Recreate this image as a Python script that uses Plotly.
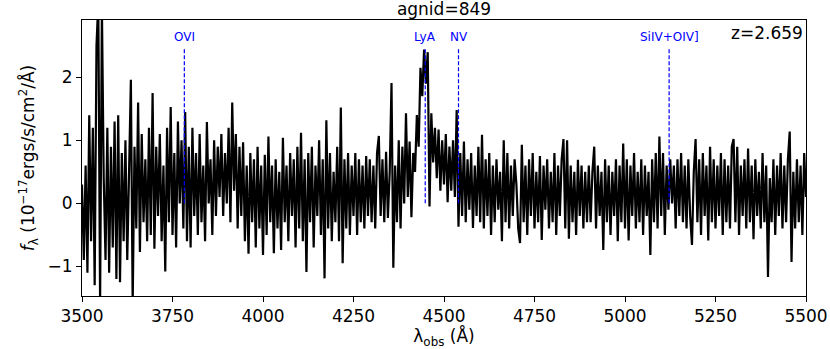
import numpy as np
import plotly.graph_objects as go

# redshift and emission lines (rest-frame wavelengths in Angstrom)
z = 2.659
line_names = ["OVI", "LyA", "NV", "SiIV+OIV]"]
line_rest = [1033.8, 1215.67, 1240.8, 1399.8]

# observed wavelength grid, 5 A steps
wave = np.arange(3500, 5501, 5)

# flux (1e-17 ergs/s/cm^2/A), one row per 100 A
flux_rows = [
    [0.3, -0.9, 0.6, -1.1, 1.4, -0.6, 1.2, -1.3, 2.5, 3.2, -1.6, 3.1, 0.4, -0.9, 1.2, -1.1, 0.9, -0.7, 1.3, -1.2],
    [1.4, -1.25, 0.8, -0.6, 1.0, -0.9, 0.5, 1.96, -1.6, 0.9, -0.4, 1.6, -0.77, 1.1, -0.3, 0.7, -0.6, 1.2, -0.5, 1.75],
    [-0.72, 0.9, -0.2, 1.1, -0.6, 0.6, -1.08, 1.2, -0.3, 1.53, -0.5, 0.8, -0.7, 1.3, 0.0, 1.0, -0.4, 1.45, -0.6, 0.9],
    [-0.7, 1.2, -0.2, 0.8, -0.5, 1.1, -0.3, 0.6, -0.6, 1.29, 0.0, 0.7, -0.5, 1.0, -0.2, 0.9, 0.1, 1.1, -0.2, 0.8],
    [0.0, 1.2, -0.3, 1.6, 0.2, 1.1, -0.4, 0.9, -0.2, 0.97, -0.6, 0.6, -0.8, 0.8, -0.3, 0.7, -0.7, 0.9, -0.4, 0.6],
    [-0.82, 0.77, -0.5, 1.06, -0.3, 0.6, -0.79, 0.7, -0.4, 0.5, -0.74, 1.04, -0.3, 0.6, -0.6, 0.8, -0.2, 0.7, -0.7, 0.9],
    [-0.4, 1.12, -0.6, 0.7, -1.09, 0.8, -0.3, 0.9, -0.7, 0.6, -0.2, 1.0, -0.5, 0.7, -1.19, 1.32, -0.4, 0.8, -0.6, 0.5],
    [-0.3, 0.9, -0.6, 1.52, -0.95, 0.7, -0.4, 0.8, -0.5, 0.6, -0.2, 0.8, -0.5, 0.7, -0.3, 0.6, -0.4, 0.75, -0.2, 0.7],
    [-0.3, 0.6, -0.4, 0.8, 1.07, -0.2, 0.7, -0.3, 0.82, -0.23, 0.5, 1.91, -1.02, 0.6, -0.3, 1.0, -0.4, 0.9, 0.0, 1.43],
    [0.1, 0.98, -0.22, 0.8, 0.5, 1.4, 0.9, 2.15, 1.7, 2.44, 1.9, 2.4, -0.05, 1.43, 0.65, 1.2, 0.4, 1.17, 0.2, 1.0],
    [0.3, 1.1, 0.02, 0.9, 0.2, 1.0, 0.1, 1.48, -0.37, 0.8, -0.2, 0.98, -0.3, 0.7, -0.1, 0.8, -0.39, 0.6, -0.2, 0.9],
    [-0.3, 1.09, -0.4, 0.7, -0.2, 0.8, -0.5, 0.6, -0.3, 0.7, -0.1, 0.5, -0.6, 1.0, -0.3, 0.8, -0.4, 0.6, -0.2, 0.7],
    [0.3, -0.4, -0.63, 0.93, -0.3, 0.6, -0.5, 0.7, -0.2, 0.8, -0.4, 0.5, -0.3, 0.75, -0.58, 0.6, -0.1, 0.7, -0.4, 0.5],
    [-0.3, 0.8, -0.5, 0.6, -0.2, 0.7, 1.02, -0.4, 1.0, -0.56, 0.6, -0.3, 0.5, -0.5, 0.69, -0.2, 0.6, -0.4, 0.5, -0.3],
    [0.6, -0.3, 0.5, 0.9, -0.4, 0.6, -0.2, 0.5, -0.74, 0.7, -0.3, 0.6, -0.5, 0.5, -0.2, 0.7, -0.6, 0.6, -0.3, 0.95],
    [-0.4, 0.7, -0.59, 0.6, -0.2, 0.8, -0.4, 0.5, -0.3, 0.7, -0.5, 0.6, -0.2, 0.5, -0.82, 0.7, -0.3, 0.8, -0.4, 1.06],
    [-0.2, 0.8, -0.5, 0.6, -0.1, 0.7, 0.0, 0.6, -0.4, 0.7, -0.2, 0.8, -0.3, 0.6, -0.4, 0.7, -0.2, -0.66, 0.5, 1.02],
    [-0.3, 0.7, -0.5, 0.8, -0.2, 0.6, -0.59, 0.9, -0.3, 0.7, -0.4, 0.6, -0.2, 0.8, -0.5, 0.7, -0.3, 0.6, -0.4, 0.9],
    [1.02, -0.3, 0.9, -0.5, 0.6, -0.2, 0.7, -0.4, 0.87, -0.3, 0.6, -0.57, 0.7, -0.2, 0.5, -0.4, 0.8, -0.3, 0.6, -1.17],
    [0.4, -0.3, 0.7, -0.5, 0.6, -0.2, 0.8, -0.4, 0.6, -0.3, 0.7, 1.14, -0.93, 0.5, -0.4, 0.7, -0.3, 0.6, -0.5, 0.8],
    [0.1],
]
flux = [v for row in flux_rows for v in row]

y_range = [-1.47, 2.91]
line_top = 2.47   # top of the dashed markers
label_y = 2.64    # height of the line names

FONT = "DejaVu Sans"

fig = go.Figure()
fig.add_trace(go.Scatter(x=wave, y=flux, mode="lines",
                         line=dict(color="black", width=2.2),
                         showlegend=False, hoverinfo="skip"))

# dashed markers for the emission lines
for name, rest in zip(line_names, line_rest):
    obs = rest * (1 + z)
    fig.add_trace(go.Scatter(x=[obs, obs], y=[0, line_top], mode="lines",
                             line=dict(color="blue", width=1.2, dash="4px,2px"),
                             showlegend=False, hoverinfo="skip"))
    fig.add_annotation(x=obs, y=label_y, text=name, showarrow=False,
                       font=dict(family=FONT, size=12, color="blue"),
                       xanchor="center", yanchor="middle")

fig.add_annotation(x=1, y=1, xref="paper", yref="paper",
                   text="z=%.3f" % z, showarrow=False,
                   font=dict(family=FONT, size=17, color="black"),
                   xanchor="right", yanchor="top", xshift=-1, yshift=-1)

axis_style = dict(showline=True, linecolor="black", linewidth=1, mirror=True,
                  ticks="outside", ticklen=5, tickcolor="black",
                  showgrid=False, zeroline=False, automargin=False,
                  tickfont=dict(family=FONT, size=17, color="black"))

fig.update_xaxes(range=[3500, 5500], tickvals=list(range(3500, 5501, 250)),
                 title=dict(text="λ<sub>obs</sub> (Å)", standoff=2,
                            font=dict(family=FONT, size=17, color="black")),
                 **axis_style)
fig.update_yaxes(range=y_range, tickvals=[-1, 0, 1, 2],
                 title=dict(text="<i>f</i><sub>λ</sub> (10<sup>−17</sup>ergs/s/cm<sup>2</sup>/Å)",
                            standoff=8,
                            font=dict(family=FONT, size=17, color="black")),
                 **axis_style)

fig.update_layout(
    width=830, height=349,
    margin=dict(l=82, r=24, t=20, b=53),
    plot_bgcolor="white", paper_bgcolor="white",
    title=dict(text="agnid=849", xref="paper", x=0.5, xanchor="center",
               y=0.975, yanchor="middle",
               font=dict(family=FONT, size=17, color="black")),
)

# the page's default 8px body margin would push the figure off the window
fig.write_html("out.html", config={"displayModeBar": False},
               post_script="document.body.style.margin = '0px';")
